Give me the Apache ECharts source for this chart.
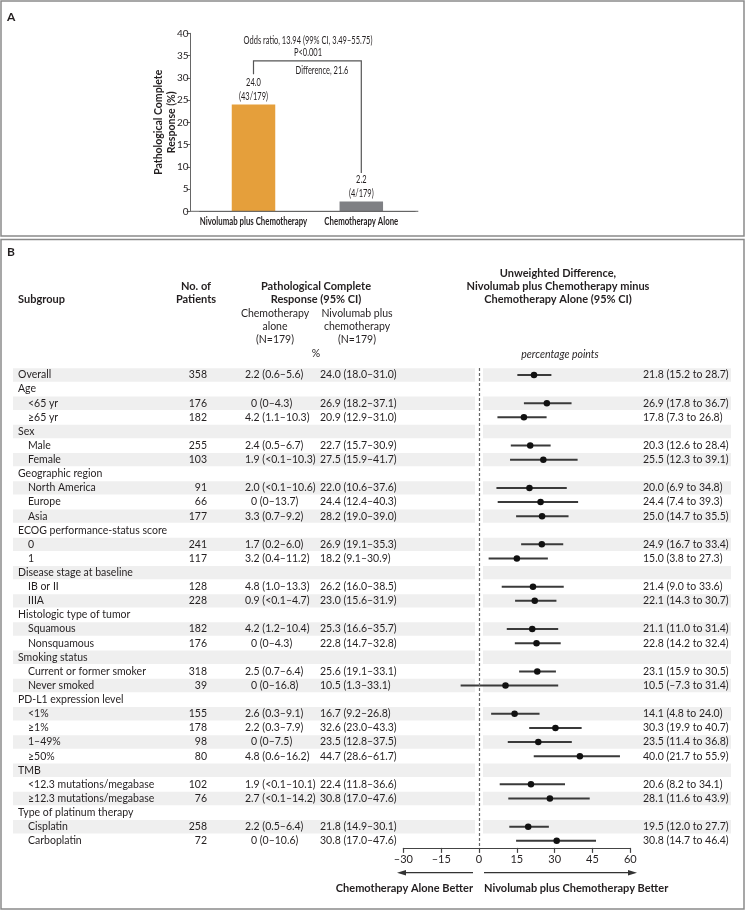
<!DOCTYPE html>
<html><head><meta charset="utf-8">
<script src="https://cdn.jsdelivr.net/npm/echarts@6/dist/echarts.min.js"></script>
<style>html,body{margin:0;padding:0;background:#fff}#c{width:746px;height:911px}</style>
</head><body><div id="c"></div>
<script>
// ---------- Panel A data ----------
const barCategories = ['Nivolumab plus Chemotherapy', 'Chemotherapy Alone'];
const pcrPercent = [24.0, 2.2];
const pcrCounts = ['43/179', '4/179'];
const pcrAxisTitle = 'Pathological Complete\nResponse (%)';
const oddsRatioText = 'Odds ratio, 13.94 (99% CI, 3.49–55.75)';
const pValueText = 'P<0.001';
const differenceText = 'Difference, 21.6';

// ---------- Panel B data ----------
const subgroups = ['Overall','Age','<65 yr','≥65 yr','Sex','Male','Female','Geographic region','North America','Europe','Asia','ECOG performance-status score','0','1','Disease stage at baseline','IB or II','IIIA','Histologic type of tumor','Squamous','Nonsquamous','Smoking status','Current or former smoker','Never smoked','PD-L1 expression level','<1%','≥1%','1–49%','≥50%','TMB','<12.3 mutations/megabase','≥12.3 mutations/megabase','Type of platinum therapy','Cisplatin','Carboplatin'];
const subgroupLevel = [0,0,1,1,0,1,1,0,1,1,1,0,1,1,0,1,1,0,1,1,0,1,1,0,1,1,1,1,0,1,1,0,1,1];
const patients = [358,null,176,182,null,255,103,null,91,66,177,null,241,117,null,128,228,null,182,176,null,318,39,null,155,178,98,80,null,102,76,null,258,72];
const chemoAlone = ['2.2 (0.6–5.6)','','0 (0–4.3)','4.2 (1.1–10.3)','','2.4 (0.5–6.7)','1.9 (<0.1–10.3)','','2.0 (<0.1–10.6)','0 (0–13.7)','3.3 (0.7–9.2)','','1.7 (0.2–6.0)','3.2 (0.4–11.2)','','4.8 (1.0–13.3)','0.9 (<0.1–4.7)','','4.2 (1.2–10.4)','0 (0–4.3)','','2.5 (0.7–6.4)','0 (0–16.8)','','2.6 (0.3–9.1)','2.2 (0.3–7.9)','0 (0–7.5)','4.8 (0.6–16.2)','','1.9 (<0.1–10.1)','2.7 (<0.1–14.2)','','2.2 (0.5–6.4)','0 (0–10.6)'];
const nivoChemo = ['24.0 (18.0–31.0)','','26.9 (18.2–37.1)','20.9 (12.9–31.0)','','22.7 (15.7–30.9)','27.5 (15.9–41.7)','','22.0 (10.6–37.6)','24.4 (12.4–40.3)','28.2 (19.0–39.0)','','26.9 (19.1–35.3)','18.2 (9.1–30.9)','','26.2 (16.0–38.5)','23.0 (15.6–31.9)','','25.3 (16.6–35.7)','22.8 (14.7–32.8)','','25.6 (19.1–33.1)','10.5 (1.3–33.1)','','16.7 (9.2–26.8)','32.6 (23.0–43.3)','23.5 (12.8–37.5)','44.7 (28.6–61.7)','','22.4 (11.8–36.6)','30.8 (17.0–47.6)','','21.8 (14.9–30.1)','30.8 (17.0–47.6)'];
const diff = [21.8,null,26.9,17.8,null,20.3,25.5,null,20.0,24.4,25.0,null,24.9,15.0,null,21.4,22.1,null,21.1,22.8,null,23.1,10.5,null,14.1,30.3,23.5,40.0,null,20.6,28.1,null,19.5,30.8];
const diffLow = [15.2,null,17.8,7.3,null,12.6,12.3,null,6.9,7.4,14.7,null,16.7,3.8,null,9.0,14.3,null,11.0,14.2,null,15.9,-7.3,null,4.8,19.9,11.4,21.7,null,8.2,11.6,null,12.0,14.7];
const diffHigh = [28.7,null,36.7,26.8,null,28.4,39.1,null,34.8,39.3,35.5,null,33.4,27.3,null,33.6,30.7,null,31.4,32.4,null,30.5,31.4,null,24.0,40.7,36.8,55.9,null,34.1,43.9,null,27.7,46.4];
const diffAxisMin = -30, diffAxisMax = 60, diffAxisStep = 15;

// ---------- styles ----------
const FB = "Lato, sans-serif";
const TXT = '#231f20';
const SQUEEZE = 0.68; // panel A lettering is condensed
const fmt = v => (v < 0 ? '–' + Math.abs(v).toFixed(1) : v.toFixed(1));

const chart = echarts.init(document.getElementById('c'), null, {renderer: 'canvas'});
const rowIds = subgroups.map((_, i) => String(i));

function rowAxis(extra, label) {
  return Object.assign({
    type: 'category', gridIndex: 1, data: rowIds, inverse: true, position: 'left', offset: 0,
    axisLine: {show: false}, axisTick: {show: false}, splitLine: {show: false},
    axisLabel: Object.assign({interval: 0, fontFamily: FB, fontSize: 10.5, color: TXT}, label)
  }, extra);
}

const gridB = {left: 403.4, top: 367.9, width: 226.9, height: 480};

function txt(text, x, y, align, font, extra) {
  return Object.assign({type: 'text', z: 50, style: {text, x, y, textAlign: align, textVerticalAlign: 'middle', font, fill: TXT}}, extra || {});
}
function stxt(text, x, y, font) {
  return {type: 'text', z: 50, x, y, scaleX: SQUEEZE, scaleY: 1,
    style: {text, x: 0, y: 0, textAlign: 'center', textVerticalAlign: 'middle', font, fill: TXT}};
}

const bracketTop = 33.8;
const graphics = [
  {type: 'rect', shape: {x: 1, y: 1, width: 743, height: 235}, style: {fill: 'none', stroke: '#8a8a8a', lineWidth: 1.5}, z: 1},
  {type: 'rect', shape: {x: 1, y: 239.5, width: 743, height: 669.5}, style: {fill: 'none', stroke: '#8a8a8a', lineWidth: 1.5}, z: 1},
  txt('A', 7, 17, 'left', 'bold 12px ' + FB),
  txt('B', 7, 252, 'left', 'bold 12px ' + FB),
  {type: 'line', shape: {x1: 190.6, y1: 211.3, x2: 418.3, y2: 211.3}, style: {stroke: '#666', lineWidth: 1}, z: 5},
  stxt(oddsRatioText, 308, 40, '11px ' + FB),
  stxt(pValueText, 308, 52.3, '11px ' + FB),
  stxt(differenceText, 322, 70.3, '11px ' + FB),
  // panel B headers
  txt('Subgroup', 18, 299, 'left', 'bold 11px ' + FB),
  txt('No. of', 196, 286, 'center', 'bold 11px ' + FB),
  txt('Patients', 196, 299, 'center', 'bold 11px ' + FB),
  txt('Pathological Complete', 316, 286, 'center', 'bold 11px ' + FB),
  txt('Response (95% CI)', 316, 299, 'center', 'bold 11px ' + FB),
  txt('Chemotherapy', 275, 314, 'center', '10.5px ' + FB),
  txt('alone', 275, 327, 'center', '10.5px ' + FB),
  txt('(N=179)', 275, 340, 'center', '10.5px ' + FB),
  txt('Nivolumab plus', 357, 314, 'center', '10.5px ' + FB),
  txt('chemotherapy', 357, 327, 'center', '10.5px ' + FB),
  txt('(N=179)', 357, 340, 'center', '10.5px ' + FB),
  txt('%', 316, 354, 'center', '10.5px ' + FB),
  txt('Unweighted Difference,', 558, 273, 'center', 'bold 11px ' + FB),
  txt('Nivolumab plus Chemotherapy minus', 558, 286, 'center', 'bold 11px ' + FB),
  txt('Chemotherapy Alone (95% CI)', 558, 299, 'center', 'bold 11px ' + FB),
  txt('percentage points', 560, 355, 'center', 'italic 10.5px ' + FB),
  // arrows
  {type: 'line', shape: {x1: 473, y1: 872.7, x2: 404, y2: 872.7}, style: {stroke: '#333', lineWidth: 1.2}, z: 5},
  {type: 'polygon', shape: {points: [[397, 872.7], [406, 870], [406, 875.4]]}, style: {fill: '#333'}, z: 5},
  {type: 'line', shape: {x1: 484, y1: 872.7, x2: 629, y2: 872.7}, style: {stroke: '#333', lineWidth: 1.2}, z: 5},
  {type: 'polygon', shape: {points: [[637, 872.7], [628, 870], [628, 875.4]]}, style: {fill: '#333'}, z: 5},
  txt('Chemotherapy Alone Better', 473, 888, 'right', 'bold 11px ' + FB),
  txt('Nivolumab plus Chemotherapy Better', 484, 888, 'left', 'bold 11px ' + FB)
];

const option = {
  animation: false,
  backgroundColor: '#fff',
  grid: [
    {left: 199.6, top: 33.3, width: 215.6, height: 178, outerBoundsMode: 'none', containLabel: false},
    Object.assign({outerBoundsMode: 'none', containLabel: false}, gridB)
  ],
  xAxis: [
    {type: 'category', gridIndex: 0, data: barCategories,
     axisLine: {show: true, lineStyle: {color: '#666', width: 1}}, axisTick: {show: false},
     axisLabel: {show: false}},
    {type: 'value', gridIndex: 1, min: diffAxisMin, max: diffAxisMax, interval: diffAxisStep,
     splitLine: {show: false},
     axisLine: {show: true, onZero: false, lineStyle: {color: '#444', width: 1.2}},
     axisTick: {show: true, inside: false, length: 5, lineStyle: {color: '#444', width: 1.2}},
     axisLabel: {margin: 6, fontFamily: FB, fontSize: 11, color: TXT, formatter: v => (v < 0 ? '–' + Math.abs(v) : String(v))}}
  ],
  yAxis: [
    {type: 'value', gridIndex: 0, min: 0, max: 40, interval: 5, offset: 9, position: 'left',
     splitLine: {show: false},
     axisLine: {show: true, lineStyle: {color: '#666', width: 1}},
     axisTick: {show: true, length: 4, lineStyle: {color: '#666'}},
     axisLabel: {margin: 2, fontFamily: FB, fontSize: 10, color: TXT},
     name: pcrAxisTitle, nameLocation: 'middle', nameRotate: 90, nameGap: 13, nameMoveOverlap: false,
     nameTextStyle: {fontFamily: FB, fontWeight: 'bold', fontSize: 10.5, lineHeight: 12.5, color: TXT}},
    rowAxis({}, {margin: gridB.left - 18, align: 'left',
      formatter: (v) => { const i = +v; return subgroupLevel[i] ? '{s|' + subgroups[i] + '}' : subgroups[i]; },
      rich: {s: {padding: [0, 0, 0, 10], fontFamily: FB, fontSize: 10.5, color: TXT}}}),
    rowAxis({}, {margin: gridB.left - 207, align: 'right',
      formatter: (v) => { const n = patients[+v]; return n == null ? '' : String(n); }}),
    rowAxis({}, {margin: gridB.left - 245, align: 'left',
      formatter: (v) => { const s = chemoAlone[+v]; return s.startsWith('0 ') ? '{z|' + s + '}' : s; },
      rich: {z: {padding: [0, 0, 0, 6], fontFamily: FB, fontSize: 10.5, color: TXT}}}),
    rowAxis({}, {margin: gridB.left - 320, align: 'left', formatter: (v) => nivoChemo[+v]}),
    rowAxis({position: 'right'}, {margin: 643 - (gridB.left + gridB.width), align: 'left',
      formatter: (v) => { const i = +v; return diff[i] == null ? '' : fmt(diff[i]) + ' (' + fmt(diffLow[i]) + ' to ' + fmt(diffHigh[i]) + ')'; }})
  ],
  series: [
    {type: 'bar', xAxisIndex: 0, yAxisIndex: 0, barWidth: 43.5,
     data: pcrPercent.map((v, i) => ({value: v, itemStyle: {color: i === 0 ? '#e59f3b' : '#7f8084'}})),
     label: {show: false}},
    {type: 'lines', coordinateSystem: 'cartesian2d', xAxisIndex: 0, yAxisIndex: 0, polyline: true, silent: true,
     lineStyle: {color: '#555', width: 1.2, opacity: 1},
     data: [{coords: [[0, pcrPercent[0] + 6.8], [0, bracketTop], [1, bracketTop], [1, pcrPercent[1] + 6.4]]}]},
    {type: 'custom', xAxisIndex: 1, yAxisIndex: 1, clip: false, silent: true, z: 0,
     data: rowIds.map((id, i) => [0, i]),
     renderItem: (params, api) => {
       const i = api.value(1);
       if (i % 2 === 1) return null;
       const c = api.coord([0, i]);
       const h = api.size([0, 1])[1] - 0.7;
       return {type: 'group', children: [
         {type: 'rect', shape: {x: 13, y: c[1] - h / 2, width: c[0] - 4 - 13, height: h}, style: {fill: '#efefef'}},
         {type: 'rect', shape: {x: c[0] + 4, y: c[1] - h / 2, width: 731 - c[0] - 4, height: h}, style: {fill: '#efefef'}}
       ]};
     }},
    {type: 'custom', xAxisIndex: 1, yAxisIndex: 1, clip: false, silent: true, z: 3,
     data: rowIds.map((id, i) => [diffLow[i], diffHigh[i], i]).filter(d => d[0] != null),
     encode: {x: [0, 1], y: 2},
     renderItem: (params, api) => {
       const a = api.coord([api.value(0), api.value(2)]);
       const b = api.coord([api.value(1), api.value(2)]);
       return {type: 'line', shape: {x1: a[0], y1: a[1], x2: b[0], y2: b[1]}, style: {stroke: '#3a3a3a', lineWidth: 2}};
     }},
    {type: 'scatter', xAxisIndex: 1, yAxisIndex: 1, symbolSize: 6.5, z: 4, silent: true,
     itemStyle: {color: '#111', opacity: 1},
     data: rowIds.map((id, i) => [diff[i], i]).filter(d => d[0] != null),
     markLine: {silent: true, symbol: 'none', label: {show: false},
       lineStyle: {type: [3, 2], color: '#666', width: 1.2},
       data: [{xAxis: 0}]}}
  ]
};
chart.setOption(option);

// panel A lettering placed from the axis scale (category centres, bar tops)
const pA = (i, v) => chart.convertToPixel({xAxisIndex: 0, yAxisIndex: 0}, [i, v]);
barCategories.forEach((cat, i) => {
  const x = pA(i, 0)[0];
  const top = pA(i, pcrPercent[i])[1];
  graphics.push(stxt(cat, x, 221.7, 'bold 11.5px ' + FB));
  graphics.push(stxt(pcrPercent[i].toFixed(1), x, top - 22, '11px ' + FB));
  graphics.push(stxt('(' + pcrCounts[i] + ')', x, top - 7.8, '11px ' + FB));
});
chart.setOption({graphic: {elements: graphics}});
</script>
</body></html>
